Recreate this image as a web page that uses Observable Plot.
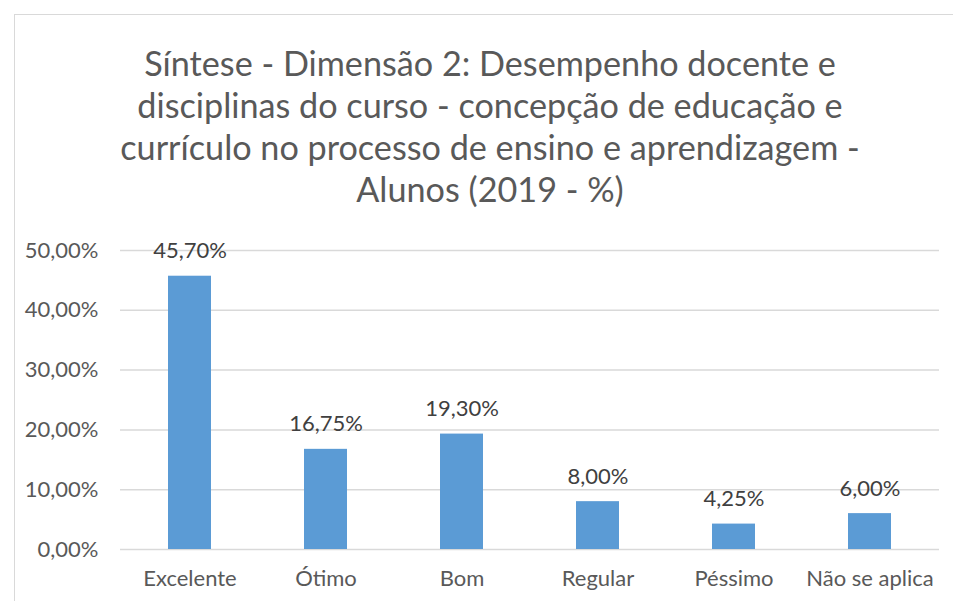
<!DOCTYPE html>
<html><head><meta charset="utf-8">
<script src="https://cdn.jsdelivr.net/npm/d3@7"></script>
<script src="https://cdn.jsdelivr.net/npm/@observablehq/plot@0.6"></script>
<style>
html,body{margin:0;padding:0;background:#fff;width:953px;height:601px;overflow:hidden;font-family:Lato,"Open Sans",sans-serif;}
#frame{position:absolute;left:14px;top:14px;width:1000px;height:700px;border:1.5px solid #d9d9d9;box-sizing:border-box;}
#title{position:absolute;left:0;top:42px;width:980px;text-align:center;color:#595959;font-size:34.2px;line-height:42px;}
#chart{position:absolute;left:0;top:230px;}
</style></head>
<body>
<div id="frame"></div>
<div id="title">Síntese - Dimensão 2: Desempenho docente e<br>disciplinas do curso - concepção de educação e<br>currículo no processo de ensino e aprendizagem -<br>Alunos (2019 - %)</div>
<div id="chart"></div>
<script>
const categories = ["Excelente","Ótimo","Bom","Regular","Péssimo","Não se aplica"];
const values = [45.70, 16.75, 19.30, 8.00, 4.25, 6.00];
const yTicks = [0,10,20,30,40,50];

const data = categories.map((c,i)=>({cat:c, v:values[i]}));
const fmt = d => d.toFixed(2).replace(".", ",") + "%";

const chart = Plot.plot({
  width: 953,
  height: 371,
  marginLeft: 120,
  marginRight: 14,
  marginTop: 20,
  marginBottom: 52,
  style: {fontFamily: "Lato, 'Open Sans', sans-serif", fontSize: "22px", color: "#595959", background: "transparent"},
  x: {domain: categories, paddingInner: 0.685, paddingOuter: 0.3425, align: 0.5, label: null, tickSize: 0, tickPadding: 21},
  y: {domain: [0,50], ticks: yTicks, label: null, tickSize: 0, tickPadding: 22, tickFormat: fmt},
  marks: [
    Plot.gridY(yTicks, {stroke: "#d9d9d9", strokeOpacity: 1, strokeWidth: 1.5}),
    Plot.barY(data, {x: "cat", y: "v", fill: "#5B9BD5"}),
    Plot.text(data, {x: "cat", y: "v", text: d => fmt(d.v), dy: -25, fill: "#404040", fontSize: 22})
  ]
});
document.getElementById("chart").appendChild(chart);
</script>
</body></html>
